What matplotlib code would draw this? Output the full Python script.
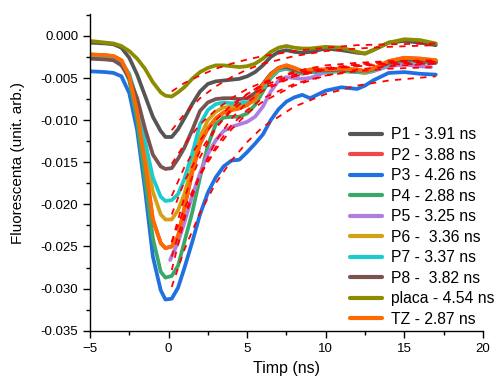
import matplotlib
matplotlib.use("Agg")
import matplotlib.pyplot as plt
from matplotlib.ticker import MultipleLocator, FormatStrFormatter

plt.rcParams['font.family'] = ['Liberation Sans', 'DejaVu Sans']

# time axis of measured curves (ns)
t = [-5, -4, -3.5, -3, -2.5, -2, -1.5, -1, -0.5, -0.2, 0.2, 0.6, 1, 1.5, 2, 2.5, 3, 3.5, 4, 4.5,
     5, 5.5, 6, 6.5, 7, 7.5, 8, 8.5, 9, 10, 11, 12, 12.5, 13, 14, 15, 16, 17]

p1 = [-0.0008, -0.0009, -0.0010, -0.0014, -0.0026, -0.0046, -0.0071, -0.0096, -0.0113, -0.0120,
      -0.0120, -0.0111, -0.0098, -0.0081, -0.0066, -0.0057, -0.0054, -0.0053, -0.0052, -0.0051,
      -0.0048, -0.0043, -0.0035, -0.0025, -0.0019, -0.0017, -0.0019, -0.0020, -0.0019, -0.0015,
      -0.0017, -0.0020, -0.0021, -0.0017, -0.0008, -0.0006, -0.0008, -0.0011]
p2 = [-0.0022, -0.0023, -0.0024, -0.0029, -0.0048, -0.0090, -0.0150, -0.0218, -0.0246, -0.0252,
      -0.0250, -0.0238, -0.0205, -0.0162, -0.0128, -0.0110, -0.0098, -0.0091, -0.0088, -0.0086,
      -0.0082, -0.0074, -0.0058, -0.0046, -0.0038, -0.0035, -0.0038, -0.0042, -0.0040, -0.0040,
      -0.0039, -0.0040, -0.0042, -0.0039, -0.0030, -0.0026, -0.0027, -0.0029]
p3 = [-0.0042, -0.0043, -0.0044, -0.0048, -0.0068, -0.0112, -0.0182, -0.0262, -0.0302, -0.0313,
      -0.0312, -0.0299, -0.0276, -0.0245, -0.0212, -0.0186, -0.0168, -0.0155, -0.0148, -0.0147,
      -0.0138, -0.0128, -0.0117, -0.0100, -0.0087, -0.0078, -0.0073, -0.0070, -0.0074, -0.0065,
      -0.0061, -0.0063, -0.0059, -0.0053, -0.0044, -0.0043, -0.0045, -0.0046]
p4 = [-0.0024, -0.0025, -0.0026, -0.0031, -0.0053, -0.0100, -0.0170, -0.0240, -0.0280, -0.0287,
      -0.0285, -0.0273, -0.0245, -0.0210, -0.0168, -0.0130, -0.0105, -0.0097, -0.0096, -0.0096,
      -0.0092, -0.0082, -0.0066, -0.0050, -0.0041, -0.0039, -0.0042, -0.0045, -0.0043, -0.0043,
      -0.0042, -0.0043, -0.0044, -0.0042, -0.0034, -0.0030, -0.0031, -0.0032]
t5 = [0.1, 0.6, 1, 1.5, 2, 2.5, 3, 3.5, 4, 4.5, 5, 5.5, 6, 6.5, 7, 7.5, 8, 8.5, 9, 10,
      11, 12, 12.5, 13, 14, 15, 16, 16.7]
p5 = [-0.0266, -0.0245, -0.0222, -0.0190, -0.0163, -0.0140, -0.0124, -0.0113, -0.0108, -0.0105,
      -0.0102, -0.0096, -0.0084, -0.0066, -0.0053, -0.0049, -0.0050, -0.0051, -0.0050, -0.0043,
      -0.0040, -0.0041, -0.0043, -0.0042, -0.0036, -0.0034, -0.0036, -0.0037]
p6 = [-0.0026, -0.0027, -0.0028, -0.0033, -0.0048, -0.0082, -0.0135, -0.0185, -0.0212, -0.0218,
      -0.0218, -0.0207, -0.0188, -0.0155, -0.0120, -0.0100, -0.0090, -0.0085, -0.0084, -0.0084,
      -0.0082, -0.0076, -0.0062, -0.0048, -0.0040, -0.0038, -0.0041, -0.0044, -0.0042, -0.0042,
      -0.0041, -0.0042, -0.0044, -0.0041, -0.0033, -0.0029, -0.0030, -0.0031]
p7 = [-0.0024, -0.0025, -0.0026, -0.0031, -0.0045, -0.0077, -0.0125, -0.0168, -0.0191, -0.0196,
      -0.0195, -0.0188, -0.0170, -0.0140, -0.0105, -0.0088, -0.0081, -0.0079, -0.0080, -0.0080,
      -0.0079, -0.0074, -0.0062, -0.0048, -0.0040, -0.0038, -0.0041, -0.0044, -0.0042, -0.0042,
      -0.0041, -0.0042, -0.0043, -0.0041, -0.0033, -0.0029, -0.0030, -0.0032]
p8 = [-0.0027, -0.0028, -0.0029, -0.0035, -0.0050, -0.0074, -0.0110, -0.0141, -0.0155, -0.0158,
      -0.0157, -0.0146, -0.0133, -0.0112, -0.0089, -0.0079, -0.0075, -0.0074, -0.0074, -0.0075,
      -0.0074, -0.0068, -0.0057, -0.0045, -0.0038, -0.0037, -0.0040, -0.0043, -0.0041, -0.0041,
      -0.0040, -0.0041, -0.0042, -0.0040, -0.0032, -0.0028, -0.0029, -0.0031]
placa = [-0.0006, -0.0008, -0.0009, -0.0012, -0.0018, -0.0027, -0.0039, -0.0055, -0.0067, -0.0071,
         -0.0072, -0.0067, -0.0061, -0.0051, -0.0043, -0.0038, -0.0035, -0.0035, -0.0036, -0.0037,
         -0.0036, -0.0033, -0.0027, -0.0019, -0.0014, -0.0012, -0.0014, -0.0015, -0.0015, -0.0013,
         -0.0014, -0.0019, -0.0021, -0.0017, -0.0008, -0.0004, -0.0005, -0.0009]
tz = [-0.0022, -0.0023, -0.0024, -0.0029, -0.0048, -0.0090, -0.0150, -0.0218, -0.0246, -0.0252,
      -0.0250, -0.0238, -0.0205, -0.0162, -0.0128, -0.0110, -0.0098, -0.0091, -0.0088, -0.0086,
      -0.0082, -0.0074, -0.0058, -0.0046, -0.0038, -0.0035, -0.0038, -0.0042, -0.0040, -0.0040,
      -0.0039, -0.0040, -0.0042, -0.0039, -0.0030, -0.0026, -0.0027, -0.0029]

# exponential fits (red dashed), read at these times
tf = [0.2, 1, 2, 3, 4, 5, 6, 8, 10, 12, 14, 17]
fit_p1 = [-0.0112, -0.0093, -0.0074, -0.0060, -0.0049, -0.0040, -0.0033, -0.0024, -0.0018, -0.0015, -0.0013, -0.0011]
fit_p2 = [-0.0245, -0.0205, -0.0165, -0.0135, -0.0111, -0.0092, -0.0078, -0.0059, -0.0047, -0.0040, -0.0036, -0.0033]
fit_p3 = [-0.0298, -0.0254, -0.0210, -0.0175, -0.0148, -0.0126, -0.0108, -0.0084, -0.0069, -0.0059, -0.0053, -0.0048]
fit_p4 = [-0.0278, -0.0218, -0.0164, -0.0125, -0.0098, -0.0079, -0.0065, -0.0048, -0.0040, -0.0036, -0.0034, -0.0033]
fit_p5 = [-0.0262, -0.0213, -0.0166, -0.0132, -0.0106, -0.0088, -0.0074, -0.0057, -0.0047, -0.0042, -0.0039, -0.0037]
fit_p6 = [-0.0212, -0.0173, -0.0137, -0.0109, -0.0089, -0.0074, -0.0062, -0.0048, -0.0040, -0.0035, -0.0033, -0.0031]
fit_p7 = [-0.0190, -0.0156, -0.0124, -0.0100, -0.0082, -0.0069, -0.0059, -0.0046, -0.0039, -0.0035, -0.0033, -0.0031]
fit_p8 = [-0.0152, -0.0129, -0.0105, -0.0088, -0.0074, -0.0063, -0.0055, -0.0044, -0.0038, -0.0034, -0.0031, -0.0030]
fit_placa = [-0.0066, -0.0056, -0.0047, -0.0039, -0.0033, -0.0028, -0.0024, -0.0018, -0.0014, -0.0011, -0.0010, -0.0009]
fit_tz = [-0.0245, -0.0192, -0.0144, -0.0110, -0.0086, -0.0069, -0.0057, -0.0042, -0.0035, -0.0032, -0.0030, -0.0029]

labels = ["P1 - 3.91 ns", "P2 - 3.88 ns", "P3 - 4.26 ns", "P4 - 2.88 ns", "P5 - 3.25 ns",
          "P6 -  3.36 ns", "P7 - 3.37 ns", "P8 -  3.82 ns", "placa - 4.54 ns", "TZ - 2.87 ns"]
colors = ["#555555", "#f04848", "#2070e0", "#3aa86a", "#b07ee0",
          "#d4a017", "#1ccccc", "#7a5252", "#8c8c00", "#ff6a00"]

series = [(t, p1), (t, p2), (t, p3), (t, p4), (t5, p5), (t, p6), (t, p7), (t, p8), (t, placa), (t, tz)]
fits = [fit_p1, fit_p2, fit_p3, fit_p4, fit_p5, fit_p6, fit_p7, fit_p8, fit_placa, fit_tz]

fig = plt.figure(figsize=(5.01, 3.78), dpi=100)
ax = fig.add_axes([0.1796, 0.1251, 0.7844, 0.8379])

handles = []
for (xs, ys), lab, col in zip(series, labels, colors):
    h, = ax.plot(xs, ys, color=col, lw=2.7, label=lab, solid_joinstyle='round', solid_capstyle='round')
    handles.append(h)

for f in fits:
    ax.plot(tf, f, color='#ff0000', lw=1.3, linestyle=(0, (3.5, 3.5)))

ax.set_xlim(-5, 20)
ax.set_ylim(-0.035, 0.0026)
ax.xaxis.set_major_locator(MultipleLocator(5))
ax.xaxis.set_minor_locator(MultipleLocator(2.5))
ax.yaxis.set_major_locator(MultipleLocator(0.005))
ax.yaxis.set_minor_locator(MultipleLocator(0.0025))
ax.yaxis.set_major_formatter(FormatStrFormatter('%.3f'))
ax.spines['top'].set_visible(False)
ax.spines['right'].set_visible(False)
for s in ['left', 'bottom']:
    ax.spines[s].set_linewidth(1.0)
ax.tick_params(which='major', direction='out', length=5, width=1.0, labelsize=9.5)
ax.tick_params(which='minor', direction='out', length=3, width=1.0)

ax.set_xlabel("Timp (ns)", fontsize=11.5, labelpad=5)
ax.set_ylabel("Fluorescenta (unit. arb.)", fontsize=11)
ax.yaxis.set_label_coords(-0.165, 0.53)

leg = ax.legend(handles=handles, loc='upper left', bbox_to_anchor=(347/501, 1 - 124/378),
                bbox_transform=fig.transFigure, frameon=False, fontsize=11.3,
                handlelength=2.0, handletextpad=0.6, labelspacing=0.35, borderpad=0.2, borderaxespad=0)
for lh in leg.get_lines():
    lh.set_linewidth(3.0)

fig.savefig("out.png", dpi=100)
